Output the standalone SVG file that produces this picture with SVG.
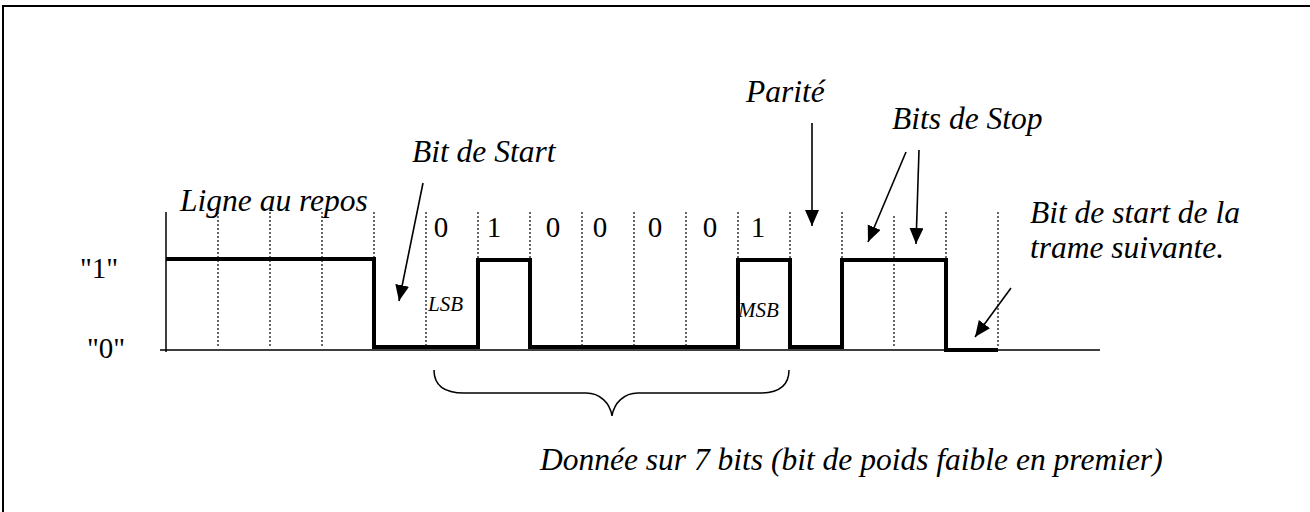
<svg xmlns="http://www.w3.org/2000/svg" width="1310" height="512" viewBox="0 0 1310 512">
<style>
.lbl{font-family:'Liberation Serif','DejaVu Serif',serif;font-style:italic;font-size:31.5px;fill:#000}
.sm{font-family:'Liberation Serif','DejaVu Serif',serif;font-style:italic;font-size:21px;fill:#000}
.dig{font-family:'Liberation Serif','DejaVu Serif',serif;font-size:29px;fill:#000}
.grid{stroke:#000;stroke-width:1.2;stroke-dasharray:2 2;fill:none}
.arr{stroke:#000;stroke-width:1.6;fill:none;marker-end:url(#ah)}
</style>
<defs>
<marker id="ah" markerUnits="userSpaceOnUse" markerWidth="18" markerHeight="16" refX="16" refY="7" orient="auto" viewBox="0 0 18 16">
<path d="M0,0 L16,7 L0,14 z" fill="#000"/>
</marker>
</defs>
<rect width="1310" height="512" fill="#fff"/>
<g id="frame">
<path d="M3,512 V6 H1310" fill="none" stroke="#000" stroke-width="2"/>
</g>
<g id="grid">
<path class="grid" d="M218,212V348 M270,212V348 M322,212V348 M374,212V348 M426,212V348 M478,212V348 M530,212V348 M582,212V348 M634,212V348 M686,212V348 M738,212V348 M790,212V348 M842,212V348 M894,216V348 M946,212V348 M998,212V348"/>
</g>
<g id="axes">
<path d="M160,350 H1100 M166,212 V352" fill="none" stroke="#000" stroke-width="1.5"/>
</g>
<g id="signal">
<path d="M166,259 H374 V347 H478 V260 H530 V347 H738 V260 H790 V347 H842 V260 H946 V350 H998" fill="none" stroke="#000" stroke-width="4" stroke-linejoin="miter"/>
</g>
<g id="levels">
<text class="dig" x="80" y="278">"1"</text>
<text class="dig" x="87" y="358">"0"</text>
</g>
<g id="bits">
<text class="dig" x="441" y="237" text-anchor="middle">0</text>
<text class="dig" x="494" y="237" text-anchor="middle">1</text>
<text class="dig" x="553" y="237" text-anchor="middle">0</text>
<text class="dig" x="600" y="237" text-anchor="middle">0</text>
<text class="dig" x="655" y="237" text-anchor="middle">0</text>
<text class="dig" x="710" y="237" text-anchor="middle">0</text>
<text class="dig" x="758" y="237" text-anchor="middle">1</text>
<text class="sm" x="428" y="311">LSB</text>
<text class="sm" x="738" y="317">MSB</text>
</g>
<g id="label-repos"><text class="lbl" x="180" y="211">Ligne au repos</text></g>
<g id="label-start"><text class="lbl" x="412" y="162">Bit de Start</text></g>
<g id="label-parite"><text class="lbl" x="746" y="102">Parité</text></g>
<g id="label-stop"><text class="lbl" x="892" y="129">Bits de Stop</text></g>
<g id="label-next">
<text class="lbl" x="1030" y="223">Bit de start de la</text>
<text class="lbl" x="1030" y="258">trame suivante.</text>
</g>
<g id="label-data"><text class="lbl" x="540" y="470">Donnée sur 7 bits (bit de poids faible en premier)</text></g>
<g id="brace">
<path d="M434,370 C434,385 444,393 464,393 H586 C600,393 610,403 612,416 C614,403 624,393 638,393 H760 C780,393 789,385 789,370" fill="none" stroke="#000" stroke-width="1.5"/>
</g>
<g id="connectors">
<line class="arr" x1="423" y1="183" x2="399" y2="301"/>
<line class="arr" x1="812" y1="123" x2="812" y2="226"/>
<line class="arr" x1="906" y1="152" x2="868" y2="242"/>
<line class="arr" x1="919" y1="150" x2="916" y2="244"/>
<line class="arr" x1="1011" y1="288" x2="975" y2="337"/>
</g>
</svg>
